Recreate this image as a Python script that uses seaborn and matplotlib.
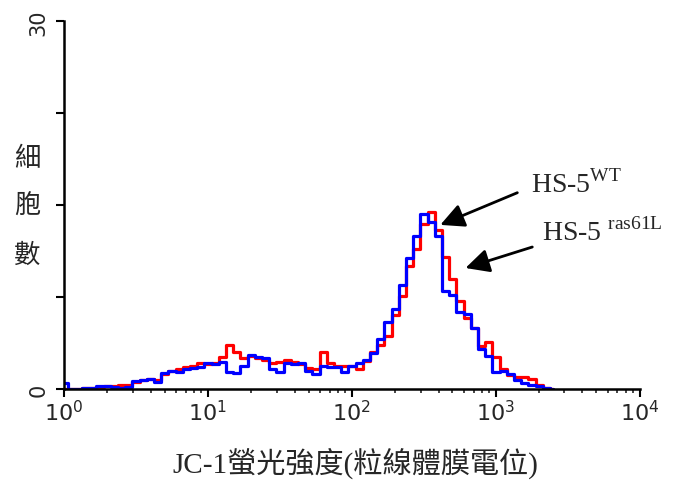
import numpy as np
import matplotlib
matplotlib.use('Agg')
import matplotlib.pyplot as plt
import seaborn as sns

# log10 of JC-1 fluorescence at each (merged) channel
log_intensity = [0.00, 0.05, 0.10, 0.15, 0.20, 0.25, 0.30, 0.35, 0.40, 0.45,
                 0.50, 0.55, 0.60, 0.65, 0.70, 0.75, 0.80, 0.85, 0.90, 0.95,
                 1.00, 1.05, 1.10, 1.15, 1.20, 1.25, 1.30, 1.35, 1.40, 1.45,
                 1.50, 1.55, 1.60, 1.65, 1.70, 1.75, 1.80, 1.85, 1.90, 1.95,
                 2.00, 2.05, 2.10, 2.15, 2.20, 2.25, 2.30, 2.35, 2.40, 2.45,
                 2.50, 2.55, 2.60, 2.65, 2.70, 2.75, 2.80, 2.85, 2.90, 2.95,
                 3.00, 3.05, 3.10, 3.15, 3.20, 3.25, 3.30, 3.35, 3.40]

# cell counts, HS-5 WT (blue)
count_wt = [0.5, 0, 0, 0.05, 0.1, 0.27, 0.25, 0.13, 0.08, 0.13,
            0.65, 0.75, 0.85, 0.6, 1.3, 1.45, 1.4, 1.6, 1.7, 1.75,
            2.1, 2.0, 2.2, 1.35, 1.3, 1.85, 2.8, 2.6, 2.5, 1.6,
            1.35, 2.1, 2.0, 2.15, 1.5, 1.25, 1.9, 1.75, 1.75, 1.4,
            1.9, 2.15, 2.4, 2.9, 4.1, 5.5, 6.5, 8.5, 10.7, 12.5,
            14.3, 13.6, 12.5, 8.0, 7.7, 6.3, 6.1, 5.0, 3.3, 2.7,
            1.4, 1.5, 1.2, 0.7, 0.45, 0.35, 0.25, 0.05, 0]

# cell counts, HS-5 ras61L (red)
count_ras = [0, 0, 0, 0.1, 0.1, 0.15, 0.2, 0.25, 0.3, 0.35,
             0.6, 0.7, 0.85, 0.7, 1.2, 1.5, 1.6, 1.8, 1.9, 2.1,
             2.0, 2.1, 2.6, 3.6, 3.0, 2.5, 2.7, 2.5, 2.4, 2.1,
             2.2, 2.4, 2.2, 2.0, 1.7, 1.6, 3.0, 2.1, 1.9, 1.9,
             1.9, 1.6, 2.3, 3.0, 3.6, 4.3, 6.0, 7.6, 10.0, 11.4,
             13.5, 14.4, 13.0, 10.8, 9.0, 7.2, 5.8, 5.0, 3.5, 3.8,
             2.6, 1.6, 1.1, 0.95, 0.95, 0.8, 0.35, 0.05, 0]

x_ticks = [1, 10, 100, 1000, 10000]
x_tick_labels = [r'$\mathsf{10^{0}}$', r'$\mathsf{10^{1}}$', r'$\mathsf{10^{2}}$',
                 r'$\mathsf{10^{3}}$', r'$\mathsf{10^{4}}$']
y_ticks = [0, 7.5, 15, 22.5, 30]
y_tick_labels = ['0', '', '', '', '30']

sns.set_style('ticks')
plt.rcParams['font.family'] = ['Liberation Serif', 'Noto Sans CJK TC', 'DejaVu Sans']
plt.rcParams['mathtext.fontset'] = 'custom'
plt.rcParams['mathtext.rm'] = 'Liberation Serif'
plt.rcParams['mathtext.sf'] = 'DejaVu Sans'

x = 10 ** np.array(log_intensity)

fig = plt.figure(figsize=(6.75, 4.85), dpi=100)
ax = fig.add_axes([0.0948, 0.196, 0.853, 0.758])

sns.lineplot(x=x, y=count_ras, color='#ff0000', lw=2.3, drawstyle='steps-mid',
             estimator=None, ax=ax)
sns.lineplot(x=x, y=count_wt, color='#0000ff', lw=2.3, drawstyle='steps-mid',
             estimator=None, ax=ax)

ax.set_xscale('log')
ax.set_xlim(1, 10000)
ax.set_ylim(0, 30)
ax.set_xticks(x_ticks)
ax.set_xticklabels(x_tick_labels, fontsize=16)
ax.set_yticks(y_ticks)
ax.set_yticklabels(y_tick_labels, fontsize=15, rotation=90, va='center',
                   family='DejaVu Sans')
ax.tick_params(axis='both', which='major', direction='out', length=6, width=1.5,
               color='black')
ax.tick_params(axis='x', which='minor', direction='out', length=3, width=1.2)
ax.tick_params(axis='x', pad=2)
ax.tick_params(axis='y', pad=5)

sns.despine(ax=ax)
for side in ['left', 'bottom']:
    ax.spines[side].set_linewidth(1.8)
    ax.spines[side].set_color('black')

ax.set_xlabel('')
ax.set_ylabel('')
fig.text(0.526, 0.045, 'JC-1螢光強度(粒線體膜電位)', fontsize=21,
         ha='center', va='center')
fig.text(0.04, 0.573, '細\n胞\n數', fontsize=19, ha='center', va='center',
         linespacing=2.25)

# arrows pointing at the two peaks
arrow_style = dict(arrowstyle='-|>', mutation_scale=36, lw=2, color='black')
ax.annotate('', xy=(395, 13.3), xytext=(1470, 16.1), arrowprops=arrow_style)
ax.annotate('', xy=(590, 9.8), xytext=(1870, 11.65), arrowprops=arrow_style)
ax.text(1750, 16.1, 'HS-5$^{\\mathrm{WT}}$', fontsize=20, ha='left', va='baseline')
ax.text(2100, 12.2, 'HS-5 $^{\\mathrm{ras61L}}$', fontsize=20, ha='left', va='baseline')

fig.savefig('out.png', dpi=100)
